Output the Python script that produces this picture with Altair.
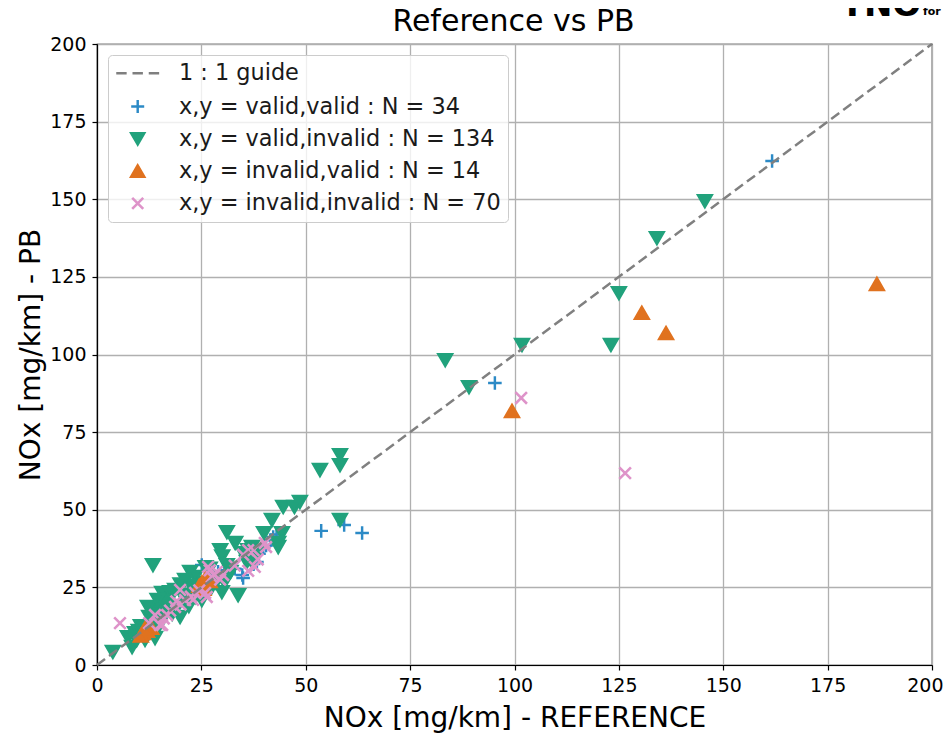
import altair as alt
import pandas as pd

title_text = ["Reference vs PB"]
logo_text = ["TNO"]
logo_small = ["for"]

groups = [
    "1 : 1 guide",
    "x,y = valid,valid : N = 34",
    "x,y = valid,invalid : N = 134",
    "x,y = invalid,valid : N = 14",
    "x,y = invalid,invalid : N = 70",
]

vv_x = [161.7, 95.3, 53.7, 59.2, 63.5, 35.0, 38.3, 39.8, 42.2, 35.4, 25.1, 18.0, 36.5, 40.5, 37.5, 34.8, 26.0,
        24.0, 29.0, 22.0, 20.0, 14.5, 27.5, 38.8, 41.5, 33.0, 30.5, 23.0, 16.5, 12.5, 19.5, 28.0, 43.0, 37.2]
vv_y = [162.3, 90.8, 43.2, 45.1, 42.5, 28.0, 33.2, 37.7, 41.2, 37.0, 32.2, 18.7, 35.2, 38.5, 32.5, 29.0, 27.5,
        25.0, 30.0, 22.5, 20.5, 15.0, 29.5, 35.8, 40.2, 31.0, 30.5, 24.5, 17.0, 12.5, 19.0, 27.2, 42.0, 36.5]

vi_x = [145.6, 134.1, 125.0, 123.1, 101.8, 83.4, 89.1, 58.2, 58.2, 53.4, 48.6, 58.2, 44.6, 41.9, 44.3, 43.4,
        31.1, 33.1, 37.1, 29.5, 31.1, 35.9, 31.1, 13.4, 22.3, 29.9, 33.8, 15.6, 18.7, 13.9, 12.2, 15.8, 19.9,
        9.1, 7.4, 11.5, 13.9, 8.4, 3.8, 19.2, 21.1, 23.5, 25.1, 27.5, 21.1, 23.5, 25.9, 36.2, 37.1, 40.0, 43.4,
        47.3, 27.0, 26.0, 17.0, 16.5, 14.0, 12.0, 10.0, 11.0, 24.5, 22.5, 20.5, 30.0, 32.0, 28.5, 18.0, 15.0,
        13.0, 9.5, 26.5, 35.0, 38.5, 30.0, 20.0, 17.5, 14.5, 22.0, 12.5, 10.5]
vi_y = [149.4, 137.5, 119.8, 103.1, 103.1, 98.2, 89.5, 67.6, 64.4, 62.8, 52.5, 46.7, 50.9, 46.7, 42.5, 39.3,
        42.8, 39.3, 38.0, 37.0, 32.2, 33.2, 28.0, 32.2, 30.0, 23.5, 22.5, 23.2, 24.2, 17.7, 18.7, 16.8, 15.5,
        10.3, 9.0, 8.1, 8.7, 5.8, 4.2, 18.7, 20.9, 21.9, 20.9, 25.1, 27.4, 28.4, 26.4, 37.0, 33.2, 42.5, 38.0,
        50.9, 31.0, 31.5, 21.0, 19.5, 14.5, 12.0, 11.0, 10.0, 23.5, 25.5, 22.5, 28.0, 30.0, 26.5, 16.5, 13.0,
        11.5, 8.0, 24.5, 36.0, 36.5, 35.0, 26.0, 23.5, 21.0, 19.0, 15.5, 12.5]

iv_x = [186.8, 130.5, 136.3, 99.4, 11.0, 25.1, 26.0, 12.0, 24.5, 27.0, 10.5, 13.0, 25.5, 11.5]
iv_y = [122.7, 113.4, 106.9, 81.8, 10.3, 26.4, 28.0, 11.0, 25.5, 27.0, 9.5, 12.0, 24.5, 11.8]

ii_x = [126.5, 101.6, 5.5, 13.9, 15.1, 18.7, 21.1, 23.5, 26.3, 27.5, 28.7, 30.2, 36.2, 37.8, 40.2, 26.6, 25.9,
        16.8, 19.9, 15.6, 36.2, 40.5, 17.5, 20.0, 22.5, 24.5, 29.5, 35.0, 37.5, 38.5, 28.0, 16.0, 12.5, 19.0,
        23.0, 27.0, 33.0]
ii_y = [61.8, 86.0, 13.5, 16.1, 12.9, 18.7, 20.9, 23.2, 21.9, 28.4, 30.0, 29.0, 37.0, 31.6, 39.3, 31.6, 23.2,
        16.1, 24.2, 12.9, 30.3, 38.0, 17.5, 19.5, 22.0, 24.0, 27.5, 35.5, 37.0, 34.0, 29.0, 15.0, 13.5, 20.5,
        21.0, 30.5, 32.0]

guide_vals = [0, 200]
ticks = [0, 25, 50, 75, 100, 125, 150, 175, 200]

rows = []
for g, xs_, ys_ in [(groups[1], vv_x, vv_y), (groups[2], vi_x, vi_y), (groups[3], iv_x, iv_y), (groups[4], ii_x, ii_y)]:
    for a, b in zip(xs_, ys_):
        rows.append({"ref": a, "pb": b, "group": g})
df = pd.DataFrame(rows)
guide_df = pd.DataFrame({"ref": guide_vals, "pb": guide_vals})

dash_path = "M-3.3,0L-1.7,0M-0.8,0L0.8,0M1.7,0L3.3,0"
plus_path = "M-1,0L1,0M0,-1L0,1"
x_path = "M-0.85,-0.85L0.85,0.85M-0.85,0.85L0.85,-0.85"
shapes = [dash_path, plus_path, "triangle-down", "triangle-up", x_path]
strokes = ["#7f7f7f", "#2c8ac6", "#21a27c", "#e0721f", "#de93c9"]
fills = ["transparent", "transparent", "#21a27c", "#e0721f", "transparent"]
widths = [2.4, 2.6, 1.2, 1.2, 1.7]

xs = alt.Scale(domain=[0, 200], nice=False, zero=False)
ys = alt.Scale(domain=[0, 200], nice=False, zero=False)

legend = alt.Legend(
    title=None, orient="none", legendX=11, legendY=11, padding=7,
    symbolOffset=11.5, labelOffset=30, rowPadding=9.3,
    labelFontSize=22.4, labelFont="DejaVu Sans", labelColor="#1a1a1a", labelLimit=600,
    symbolSize=169, symbolStrokeWidth=2,
    fillColor="rgba(255,255,255,0.8)", strokeColor="#cccccc", cornerRadius=4,
)

x_axis = alt.Axis(
    values=ticks, labelFlush=False,
    labelAlign={"expr": "datum.value >= 200 ? 'right' : 'center'"},
    labelOffset={"expr": "datum.value >= 200 ? 11 : 0"},
)

points = alt.Chart(df).mark_point(size=185, opacity=1).encode(
    x=alt.X("ref:Q", scale=xs, title="NOx [mg/km] - REFERENCE", axis=x_axis),
    y=alt.Y("pb:Q", scale=ys, title="NOx [mg/km] - PB", axis=alt.Axis(values=ticks, labelFlush=False)),
    shape=alt.Shape("group:N", scale=alt.Scale(domain=groups, range=shapes), legend=legend),
    stroke=alt.Stroke("group:N", scale=alt.Scale(domain=groups, range=strokes), legend=legend),
    fill=alt.Fill("group:N", scale=alt.Scale(domain=groups, range=fills), legend=legend),
    strokeWidth=alt.StrokeWidth("group:N", scale=alt.Scale(domain=groups, range=widths), legend=legend),
)

guide = alt.Chart(guide_df).mark_line(color="#808080", strokeWidth=2.5, strokeDash=[10, 5]).encode(
    x=alt.X("ref:Q", scale=xs),
    y=alt.Y("pb:Q", scale=ys),
)

title = alt.Chart(pd.DataFrame({"t": title_text})).mark_text(
    fontSize=30, font="DejaVu Sans", align="center", baseline="alphabetic", color="black"
).encode(text="t:N", x=alt.value(416.5), y=alt.value(-13))

logo = alt.Chart(pd.DataFrame({"t": logo_text})).mark_text(
    fontSize=34, fontWeight=900, font="DejaVu Sans", align="center", baseline="alphabetic", color="black"
).encode(text="t:N", x=alt.value(784), y=alt.value(-28))

logo2 = alt.Chart(pd.DataFrame({"t": logo_small})).mark_text(
    fontSize=11, fontWeight="bold", font="DejaVu Sans", align="left", baseline="alphabetic", color="black"
).encode(text="t:N", x=alt.value(826), y=alt.value(-29))

chart = alt.layer(points, guide, title, logo, logo2).properties(
    width=835, height=621,
    padding={"left": 89, "top": 36, "right": 12, "bottom": 72},
    autosize=alt.AutoSizeParams(type="none"),
).configure_view(
    stroke="black", strokeWidth=1.2
).configure_axis(
    grid=True, gridColor="#b0b0b0", gridWidth=1.3,
    domainColor="black", domainWidth=1.2, tickColor="black", tickSize=5, tickWidth=1.2,
    labelColor="black", labelFontSize=19, labelFont="DejaVu Sans", labelPadding=6,
    titleColor="black", titleFontSize=28, titleFont="DejaVu Sans", titleFontWeight="normal",
).configure_axisX(titlePadding=9).configure_axisY(titlePadding=4)

chart.save("out.html", embed_options={"renderer": "svg", "actions": False})
